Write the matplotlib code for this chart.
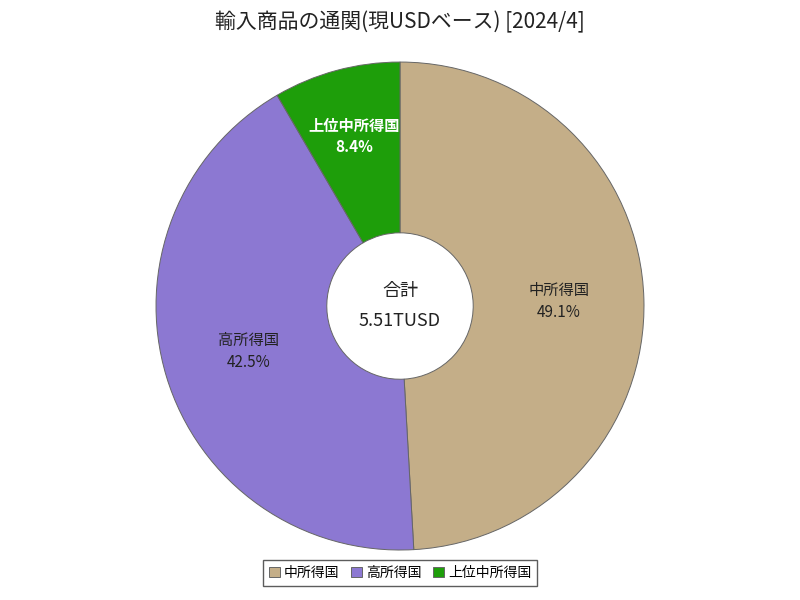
import matplotlib
matplotlib.use("Agg")
import matplotlib.pyplot as plt

plt.rcParams['font.family'] = ['Noto Sans CJK JP', 'DejaVu Sans']

labels = ["中所得国", "高所得国", "上位中所得国"]
values = [49.1, 42.5, 8.4]
colors = ["#c4ae88", "#8c78d2", "#1e9e0a"]
title = "輸入商品の通関(現USDベース) [2024/4]"
center_text = "合計\n5.51TUSD"

fig = plt.figure(figsize=(8, 6), dpi=100)
ax = fig.add_axes([0.195, 0.0833, 0.61, 0.8133])
wedges, _ = ax.pie(values, colors=colors, startangle=90, counterclock=False,
                   radius=1.0, wedgeprops=dict(width=0.7, edgecolor="#666666", linewidth=0.7))
import numpy as np
ang = 90
for lab, v, w in zip(labels, values, wedges):
    mid = np.deg2rad((w.theta1 + w.theta2) / 2)
    r = 0.65 if v > 20 else 0.72
    x, y = r * np.cos(mid), r * np.sin(mid)
    col = "white" if lab == "上位中所得国" else "#222222"
    ax.text(x, y, f"{lab}\n{v}%", ha="center", va="center", fontsize=11,
            color=col, fontweight="bold" if col == "white" else "normal", linespacing=1.4)
ax.text(0, 0, center_text, ha="center", va="center", fontsize=13, color="#222222", linespacing=1.8)
ax.set_xlim(-1, 1); ax.set_ylim(-1, 1)
ax.set_aspect("equal")
fig.text(0.5, 0.963, title, ha="center", va="center", fontsize=15, color="#222222")
leg = fig.legend(wedges, labels, loc="center", bbox_to_anchor=(0.5, 0.045), ncol=3,
                 frameon=True, fontsize=10, handlelength=0.8, handletextpad=0.3,
                 columnspacing=0.8, borderpad=0.4, fancybox=False, markerscale=1)
leg.get_frame().set_edgecolor("#333333")
# circular handles
for h in leg.legend_handles:
    pass
fig.savefig("out.png", dpi=100)
